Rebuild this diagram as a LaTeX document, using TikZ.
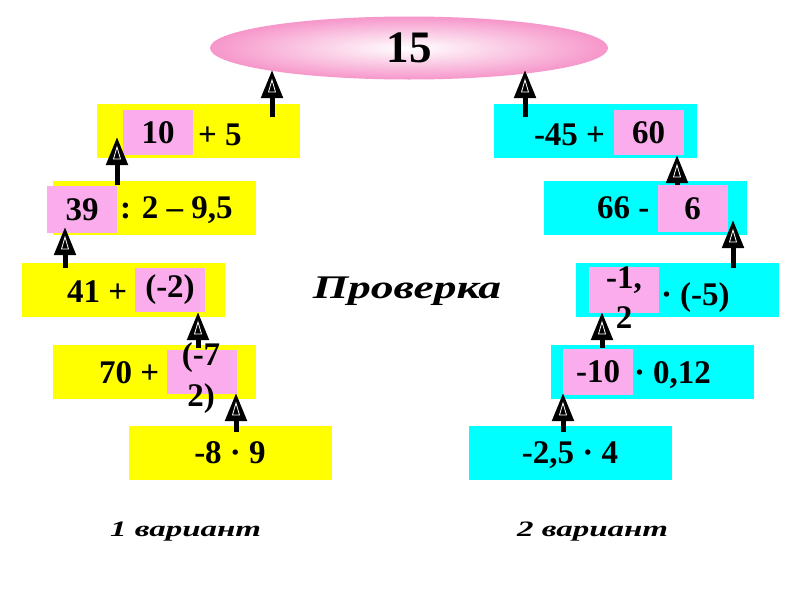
\documentclass[tikz,border=0pt]{standalone}
\usepackage{fontspec}
\setmainfont{Liberation Serif}
\newfontfamily\capfont[FakeStretch=1.38]{Liberation Serif}
\newfontfamily\varfont[FakeStretch=1.5]{Liberation Serif}
\usetikzlibrary{arrows.meta,shapes.geometric,calc}
\definecolor{ybox}{RGB}{255,255,0}
\definecolor{cbox}{RGB}{0,255,255}
\definecolor{pbox}{RGB}{250,172,236}
\definecolor{ellpink}{RGB}{246,150,202}
\tikzset{
  every node/.style={inner sep=0pt, outer sep=0pt},
  yellowbox/.style={fill=ybox, minimum width=203pt, minimum height=54pt},
  cyanbox/.style={fill=cbox, minimum width=203pt, minimum height=54pt},
  pinkbox/.style={fill=pbox, minimum width=70pt, minimum height=45pt, font=\bfseries\fontsize{33}{42}\selectfont},
  txt/.style={font=\bfseries\fontsize{33}{42}\selectfont, anchor=base west},
  wrapped/.style={font=\bfseries\fontsize{33}{41}\selectfont, align=center},
  upar/.style={line width=5pt, -{Triangle[width=21pt,length=28pt]}},
  varlabel/.style={font=\varfont\bfseries\itshape\fontsize{22}{26}\selectfont, anchor=base west},
}
\newcommand{\innertri}[1]{\draw[white, line width=0.8pt] ($(#1)+(0,10)$) -- ($(#1)+(-3.5,22)$) -- ($(#1)+(3.5,22)$) -- cycle;}
\begin{document}
\begin{tikzpicture}[x=1pt,y=-1pt]
\useasboundingbox (0,0) rectangle (800,600);
\fill[white] (0,0) rectangle (800,600);

% top ellipse
\node[ellipse, minimum width=398pt, minimum height=63pt, inner color=white, outer color=ellpink,
      font=\bfseries\fontsize{45}{50}\selectfont] (top) at (409,48) {15};

% left column (variant 1)
\node[yellowbox] (L1) at (198.5,131) {};
\node[yellowbox] (L2) at (154,207.5) {};
\node[yellowbox] (L3) at (123,289.5) {};
\node[yellowbox] (L4) at (154,371.5) {};
\node[yellowbox] (L5) at (230,453) {};

\node[pinkbox] (P1) at (158,132.5) {10};
\node[txt] (T1) at (198,145) {+ 5};
\node[pinkbox, minimum height=47pt] (P2) at (82,209.5) {39};
\node[txt] (T2) at (120,218) {: 2 -- 9,5};
\node[pinkbox, minimum height=44pt] (P3) at (170,290) {(-2)};
\node[txt] (T3) at (67,302) {41 +};
\node[pinkbox, minimum height=44pt] (P4) at (202,372) {};
\node[wrapped] (W4) at (201,378) {(-7\\2)};
\node[txt] (T4) at (99,383) {70 +};
\node[txt, anchor=base] (T5) at (230,463) {-8 · 9};

% right column (variant 2)
\node[cyanbox] (R1) at (595,131) {};
\node[cyanbox] (R2) at (645,207.5) {};
\node[cyanbox] (R3) at (677,289.5) {};
\node[cyanbox] (R4) at (652,371.5) {};
\node[cyanbox] (R5) at (570,453) {};

\node[pinkbox] (Q1) at (648.5,132.5) {60};
\node[txt] (U1) at (534,145) {-45 +};
\node[pinkbox, minimum height=47pt] (Q2) at (692.5,208.5) {6};
\node[txt] (U2) at (597,218) {66 -};
\node[pinkbox, minimum height=46pt] (Q3) at (623.5,290) {};
\node[wrapped, font=\bfseries\fontsize{33}{40}\selectfont] (W3) at (624,298) {-1,\\2};
\node[txt] (U3) at (661,305) {· (-5)};
\node[pinkbox, minimum height=46pt] (Q4) at (598,372) {-10};
\node[txt] (U4) at (634,383) {· 0,12};
\node[txt, anchor=base] (U5) at (570,463) {-2,5 · 4};

% labels
\node[font=\capfont\bfseries\itshape\fontsize{33}{36}\selectfont, anchor=base] (chk) at (407,298) {Проверка};
\node[varlabel] (v1) at (110,536) {1 вариант};
\node[varlabel] (v2) at (517,536) {2 вариант};

% arrow end points
\coordinate (a1s) at (272,117); \coordinate (a1e) at (272,70);
\coordinate (a2s) at (117,185); \coordinate (a2e) at (117,137);
\coordinate (a3s) at (65,268);  \coordinate (a3e) at (65,227);
\coordinate (a4s) at (198,348); \coordinate (a4e) at (198,312);
\coordinate (a5s) at (236,432); \coordinate (a5e) at (236,393);
\coordinate (b1s) at (525,117); \coordinate (b1e) at (525,70);
\coordinate (b2s) at (677,185); \coordinate (b2e) at (677,155);
\coordinate (b3s) at (733,268); \coordinate (b3e) at (733,220);
\coordinate (b4s) at (602,348); \coordinate (b4e) at (602,312);
\coordinate (b5s) at (563,432); \coordinate (b5e) at (563,393);

\foreach \n in {a1,a2,a3,a4,a5,b1,b2,b3,b4,b5}{
  \draw[upar] (\n s) -- (\n e);
  \innertri{\n e}
}
\end{tikzpicture}
\end{document}
